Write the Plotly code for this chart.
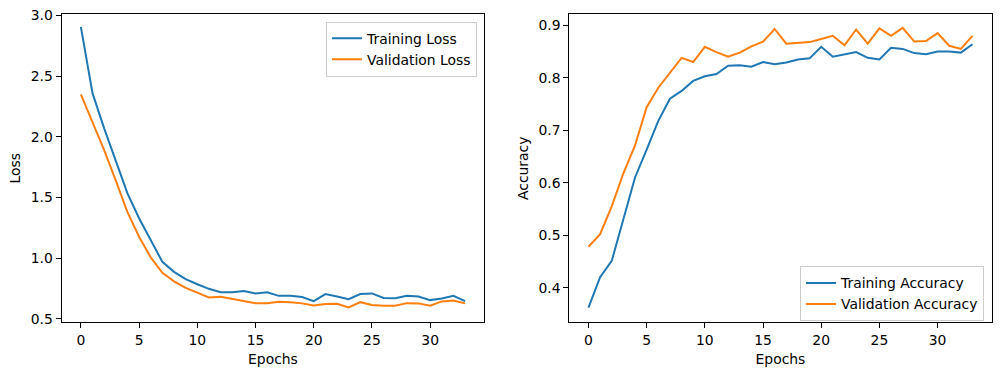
import plotly.graph_objects as go

epochs = list(range(34))
train_loss = [2.906, 2.36, 2.07, 1.80, 1.534, 1.33, 1.15, 0.97, 0.888, 0.828, 0.786, 0.748,
              0.72, 0.72, 0.73, 0.71, 0.72, 0.69, 0.69, 0.68, 0.647, 0.705, 0.685, 0.663,
              0.705, 0.71, 0.672, 0.67, 0.69, 0.685, 0.655, 0.668, 0.69, 0.647]
val_loss = [2.35, 2.12, 1.89, 1.64, 1.38, 1.177, 1.007, 0.88, 0.81, 0.756, 0.715, 0.677,
            0.683, 0.665, 0.65, 0.63, 0.63, 0.641, 0.638, 0.628, 0.611, 0.622, 0.625, 0.595,
            0.638, 0.614, 0.608, 0.608, 0.63, 0.628, 0.608, 0.644, 0.652, 0.628]
train_acc = [0.362, 0.42, 0.451, 0.528, 0.61, 0.663, 0.718, 0.76, 0.775, 0.794, 0.803, 0.807,
             0.823, 0.824, 0.821, 0.83, 0.826, 0.829, 0.835, 0.837, 0.859, 0.84, 0.844, 0.849,
             0.838, 0.835, 0.857, 0.855, 0.847, 0.845, 0.85, 0.85, 0.848, 0.864]
val_acc = [0.478, 0.502, 0.555, 0.618, 0.671, 0.744, 0.781, 0.809, 0.838, 0.83, 0.859, 0.849,
           0.84, 0.848, 0.86, 0.869, 0.893, 0.865, 0.866, 0.868, 0.874, 0.88, 0.862, 0.892,
           0.865, 0.894, 0.88, 0.895, 0.869, 0.87, 0.885, 0.861, 0.855, 0.88]
x_ticks = [0, 5, 10, 15, 20, 25, 30]
loss_ticks = [0.5, 1.0, 1.5, 2.0, 2.5, 3.0]
acc_ticks = [0.4, 0.5, 0.6, 0.7, 0.8, 0.9]

BLUE = "#1f77b4"
ORANGE = "#ff7f0e"
FONT = "DejaVu Sans"
FS = 13.9
LW = 2

fig = go.Figure()
fig.add_trace(go.Scatter(x=epochs, y=train_loss, mode="lines", name="Training Loss",
                         line=dict(color=BLUE, width=LW), xaxis="x", yaxis="y", legend="legend"))
fig.add_trace(go.Scatter(x=epochs, y=val_loss, mode="lines", name="Validation Loss",
                         line=dict(color=ORANGE, width=LW), xaxis="x", yaxis="y", legend="legend"))
fig.add_trace(go.Scatter(x=epochs, y=train_acc, mode="lines", name="Training Accuracy",
                         line=dict(color=BLUE, width=LW), xaxis="x2", yaxis="y2", legend="legend2"))
fig.add_trace(go.Scatter(x=epochs, y=val_acc, mode="lines", name="Validation Accuracy",
                         line=dict(color=ORANGE, width=LW), xaxis="x2", yaxis="y2", legend="legend2"))

axis_common = dict(showline=True, linecolor="black", linewidth=1, mirror=True,
                   ticks="outside", ticklen=5, tickwidth=1, tickcolor="black",
                   showgrid=False, zeroline=False, automargin=False,
                   tickfont=dict(family=FONT, size=FS, color="black"))

fig.update_layout(
    width=1001, height=375,
    margin=dict(l=0, r=0, t=0, b=0, autoexpand=False),
    paper_bgcolor="white", plot_bgcolor="white",
    font=dict(family=FONT, size=FS, color="black"),
    xaxis=dict(domain=[0.0616, 0.4838], range=[-1.65, 34.65], tickvals=x_ticks,
               title=dict(text="Epochs", font=dict(size=FS), standoff=7), anchor="y", **axis_common),
    yaxis=dict(domain=[0.1405, 0.9619], range=[0.472, 3.01], tickvals=loss_ticks,
               ticktext=[f"{v:.1f}" for v in loss_ticks],
               title=dict(text="Loss", font=dict(size=FS), standoff=6), anchor="x", **axis_common),
    xaxis2=dict(domain=[0.5687, 0.9907], range=[-1.65, 34.65], tickvals=x_ticks,
                title=dict(text="Epochs", font=dict(size=FS), standoff=7), anchor="y2", **axis_common),
    yaxis2=dict(domain=[0.1405, 0.9619], range=[0.334, 0.921], tickvals=acc_ticks,
                ticktext=[f"{v:.1f}" for v in acc_ticks],
                title=dict(text="Accuracy", font=dict(size=FS), standoff=6), anchor="x2", **axis_common),
    legend=dict(x=0.4765, y=0.9421, xanchor="right", yanchor="top",
                bgcolor="rgba(255,255,255,0.8)", bordercolor="#cccccc", borderwidth=1,
                font=dict(family=FONT, size=FS, color="black"), tracegroupgap=0),
    legend2=dict(x=0.983, y=0.143, xanchor="right", yanchor="bottom",
                 bgcolor="rgba(255,255,255,0.8)", bordercolor="#cccccc", borderwidth=1,
                 font=dict(family=FONT, size=FS, color="black"), tracegroupgap=0),
)

fig.write_html("out.html", config={"displayModeBar": False},
               post_script="document.body.style.margin='0';")
